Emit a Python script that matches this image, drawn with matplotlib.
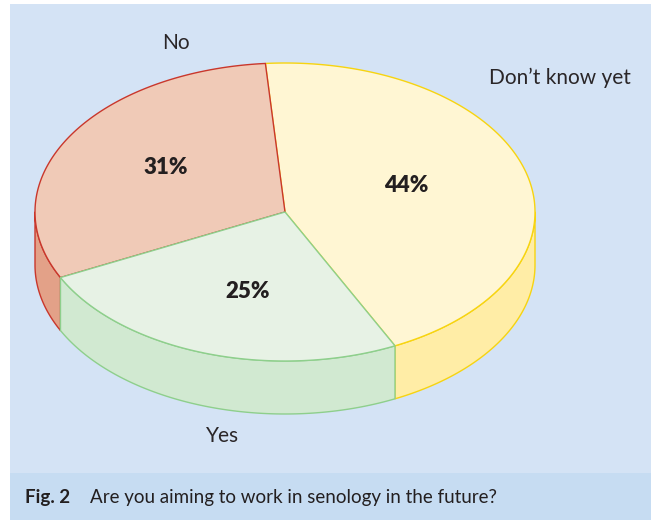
import matplotlib
matplotlib.use("Agg")
import matplotlib.pyplot as plt
from matplotlib.patches import Polygon, Rectangle
import numpy as np

labels = ["No", "Yes", "Don\u2019t know yet"]
shares = [31, 25, 44]
pct_labels = ["31%", "25%", "44%"]
top_colors = ["#f0cab7", "#e7f2e5", "#fff6d3"]
side_colors = ["#e3a188", "#d1e9d1", "#ffeda6"]
edge_colors = ["#c9372c", "#8ecf8c", "#f7d410"]
caption_bold = "Fig. 2"
caption_text = "Are you aiming to work in senology in the future?"

# pie geometry in pixel coordinates
cx, cy = 285, 212
rx, ry = 250, 149
depth = 53
start = 94.5

plt.rcParams["font.family"] = ["Lato", "DejaVu Sans"]

fig = plt.figure(figsize=(6.51, 5.2), dpi=100)
ax = fig.add_axes([0, 0, 1, 1])
ax.set_xlim(0, 651)
ax.set_ylim(520, 0)
ax.axis("off")

ax.add_patch(Rectangle((10, 4), 641, 469, facecolor="#d4e3f5", edgecolor="none"))
ax.add_patch(Rectangle((10, 473), 641, 47, facecolor="#c6dcf2", edgecolor="none"))


def ell(t, dz=0):
    t = np.radians(t)
    return np.column_stack([cx + rx * np.cos(t), cy - ry * np.sin(t) + dz])


bounds = start + 360 * np.concatenate([[0], np.cumsum(shares)]) / sum(shares)

# draw order: Don't know, No, Yes
order = [2, 0, 1]

# sides (front half only, 180..360 deg)
for i in order:
    a, b = bounds[i], bounds[i + 1]
    lo, hi = max(a, 180), min(b, 360)
    if hi <= lo:
        continue
    t = np.linspace(lo, hi, 120)
    pts = np.vstack([ell(t), ell(t[::-1], depth)])
    ax.add_patch(Polygon(pts, closed=True, facecolor=side_colors[i],
                         edgecolor=edge_colors[i], lw=1.0, joinstyle="round"))

# top faces
for i in order:
    a, b = bounds[i], bounds[i + 1]
    t = np.linspace(a, b, 200)
    pts = np.vstack([[cx, cy], ell(t)])
    ax.add_patch(Polygon(pts, closed=True, facecolor=top_colors[i],
                         edgecolor=edge_colors[i], lw=1.0, joinstyle="round"))

# percent labels
pct_pos = [(166, 167), (248, 292), (406, 185)]
for (x, y), s in zip(pct_pos, pct_labels):
    ax.text(x, y, s, ha="center", va="center", fontsize=16, fontweight="heavy",
            color="#231f20")

# category labels
cat_pos = [(176, 43), (223, 436), (560, 78)]
for (x, y), s in zip(cat_pos, labels):
    ax.text(x, y, s, ha="center", va="center", fontsize=15, color="#2a2628")

ax.text(25, 497, caption_bold, ha="left", va="center", fontsize=13.5,
        fontweight="bold", color="#231f20")
ax.text(90, 497, caption_text, ha="left", va="center", fontsize=13.5,
        color="#231f20")

fig.savefig("out.png", dpi=100, facecolor="white")
